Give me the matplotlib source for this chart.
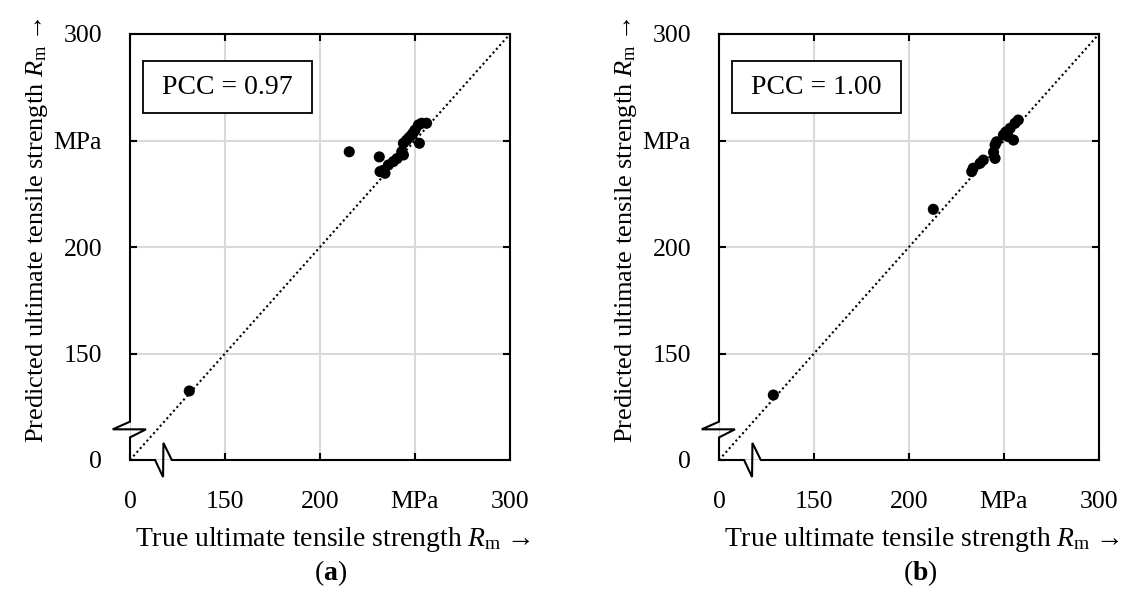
import matplotlib.pyplot as plt
from matplotlib.patches import Rectangle

plt.rcParams['font.family'] = ['Liberation Serif', 'DejaVu Serif']
plt.rcParams['mathtext.fontset'] = 'custom'
plt.rcParams['mathtext.rm'] = 'Liberation Serif'
plt.rcParams['mathtext.it'] = 'Liberation Serif:italic'
plt.rcParams['mathtext.bf'] = 'Liberation Serif:bold'

# measured vs. predicted Rm in MPa
true_a = [131.2, 215.4, 231.2, 231.6, 233.0, 234.2, 236.0, 238.6, 240.5, 243.0, 243.9,
          243.9, 245.6, 247.0, 248.3, 249.0, 250.0, 251.8, 253.5, 256.1, 252.3]
pred_a = [132.4, 244.7, 242.3, 235.4, 235.9, 234.6, 238.5, 240.1, 241.5, 244.7, 248.7,
          243.2, 250.2, 251.5, 252.6, 253.5, 254.9, 257.3, 258.1, 258.1, 248.7]
true_b = [128.6, 212.8, 233.0, 233.8, 237.4, 239.1, 244.5, 245.3, 246.1, 245.3, 249.7,
          251.0, 252.3, 255.0, 253.2, 255.8, 257.5]
pred_b = [130.5, 217.7, 235.4, 237.0, 239.3, 240.8, 244.5, 247.9, 249.4, 241.6, 252.6,
          254.0, 251.8, 250.2, 255.7, 258.1, 259.6]
pcc = [0.97, 1.00]
panels = ['a', 'b']

ticks = [100, 150, 200, 250, 300]
tick_labels = ['0', '150', '200', 'MPa', '300']
lo, hi = 100, 300

fig = plt.figure(figsize=(11.26, 5.97), dpi=100)
W, H = 1126, 597
lefts = [130, 719]
data = [(true_a, pred_a), (true_b, pred_b)]

for i, (x, y) in enumerate(data):
    ax = fig.add_axes([lefts[i] / W, (H - 460) / H, 380 / W, 426 / H])
    ax.set_xlim(lo, hi)
    ax.set_ylim(lo, hi)
    ax.grid(color='#d9d9d9', lw=1.5, zorder=0)
    ax.set_axisbelow(True)

    ax.plot([lo, hi], [lo, hi], color='black', ls=(0, (1, 1.4)), lw=1.5, zorder=2)
    ax.scatter(x, y, s=64, color='black', edgecolors='none', zorder=3)

    ax.set_xticks(ticks)
    ax.set_yticks(ticks)
    ax.set_xticklabels(tick_labels)
    ax.set_yticklabels(tick_labels)
    ax.tick_params(direction='in', top=True, right=True, length=5, width=1.5,
                   labelsize=18.5)
    ax.tick_params(axis='x', pad=22)
    ax.tick_params(axis='y', pad=20)

    for side in ['top', 'right']:
        ax.spines[side].set_linewidth(1.5)
    ax.spines['left'].set_visible(False)
    ax.spines['bottom'].set_visible(False)

    # left and bottom axis lines with break symbols near the origin
    bx = [0, 0, -0.0455, 0.042, 0, 0, 0.066, 0.087, 0.088, 0.110, 1]
    by = [1, 0.090, 0.072, 0.072, 0.053, 0, 0, -0.040, 0.040, 0, 0]
    ax.plot(bx, by, color='black', lw=1.5, transform=ax.transAxes, clip_on=False,
            solid_joinstyle='miter', zorder=5)

    ax.add_patch(Rectangle((0.034, 0.814), 0.446, 0.123, transform=ax.transAxes,
                           facecolor='white', edgecolor='black', lw=1.3, zorder=4))
    ax.text(0.257, 0.875, f'PCC = {pcc[i]:.2f}', transform=ax.transAxes,
            ha='center', va='center', fontsize=20, zorder=5)

    ax.set_xlabel('True ultimate tensile strength $R_\\mathrm{m}$\u2009→', fontsize=20)
    ax.set_ylabel('Predicted ultimate tensile strength $R_\\mathrm{m}$\u2009→', fontsize=19)
    ax.xaxis.set_label_coords(0.532, -0.152)
    ax.yaxis.set_label_coords(-0.21, 0.54)

    fig.text((lefts[i] + 201) / W, 1 - 573 / H, r'($\mathbf{' + panels[i] + '}$)',
             ha='center', va='center', fontsize=20)

fig.savefig('out.png', dpi=100)
